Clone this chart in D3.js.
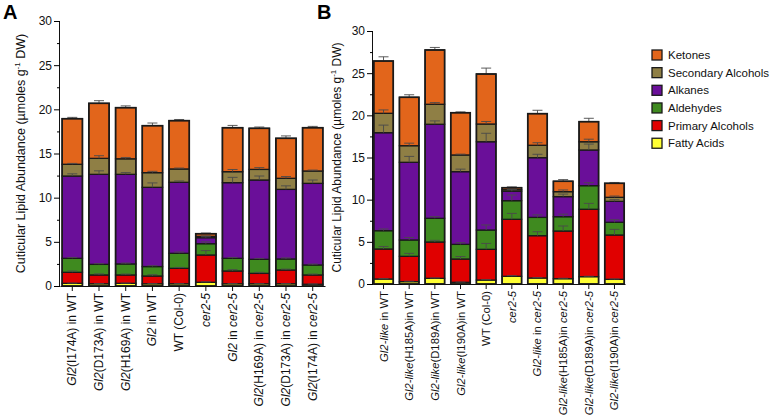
<!DOCTYPE html>
<html><head><meta charset="utf-8">
<script src="https://cdn.jsdelivr.net/npm/d3@7"></script>
<style>body{margin:0;background:#fff}svg{display:block;font-family:"Liberation Sans",Arial,sans-serif}</style>
</head><body><svg id="c" width="770" height="420"></svg>
<script>
// ---------- DATA ----------
const seriesNames = ["Fatty Acids","Primary Alcohols","Aldehydes","Alkanes","Secondary Alcohols","Ketones"];
const seriesColors = ["#ffff33","#e00000","#3f8a1f","#6a0f99","#8f7f45","#e2651b"];

const catsA = ["Gl2(I174A) in WT","Gl2(D173A) in WT","Gl2(H169A) in WT","Gl2 in WT","WT (Col-0)","cer2-5","Gl2 in cer2-5","Gl2(H169A) in cer2-5","Gl2(D173A) in cer2-5","Gl2(I174A) in cer2-5"];
const aFattyAcids  = [0.30,0.25,0.30,0.25,0.25,0.42,0.25,0.25,0.25,0.20];
const aPrimaryAlc  = [1.25,1.00,0.95,0.88,1.75,3.09,1.45,1.18,1.56,1.05];
const aAldehydes   = [1.58,1.20,1.25,1.07,1.70,1.28,1.43,1.59,1.25,1.13];
const aAlkanes     = [9.32,10.19,10.14,8.97,8.04,0.68,8.57,8.98,7.88,9.24];
const aSecondary   = [1.33,1.81,1.76,1.66,1.51,0.15,1.24,1.20,1.25,1.40];
const aKetones     = [5.16,6.23,5.79,5.32,5.47,0.30,4.98,4.65,4.53,4.90];
const aErrFA  = [0.03,0.03,0.03,0.03,0.03,0.05,0.03,0.03,0.03,0.03];
const aErrPA  = [0.15,0.12,0.10,0.15,0.10,0.50,0.15,0.12,0.10,0.10];
const aErrAld = [0.10,0.08,0.10,0.10,0.15,0.20,0.10,0.10,0.12,0.10];
const aErrAlk = [0.25,0.40,0.20,0.50,0.15,0.10,0.60,0.45,0.40,0.38];
const aErrSA  = [0.10,0.30,0.15,0.15,0.10,0.05,0.25,0.20,0.20,0.10];
const aErrK   = [0.15,0.30,0.20,0.30,0.13,0.08,0.26,0.15,0.27,0.15];

const catsB = ["Gl2-like in WT","Gl2-like(H185A)in WT","Gl2-like(D189A)in WT","Gl2-like(I190A)in WT","WT (Col-0)","cer2-5","Gl2-like in cer2-5","Gl2-like(H185A)in cer2-5","Gl2-like(D189A)in cer2-5","Gl2-like(I190A)in cer2-5"];
const bFattyAcids  = [0.59,0.28,0.67,0.20,0.47,0.91,0.71,0.63,0.87,0.55];
const bPrimaryAlc  = [3.56,3.00,4.31,2.76,3.64,6.76,5.02,5.65,7.99,5.26];
const bAldehydes   = [2.17,1.94,2.81,1.74,2.29,2.21,2.17,1.70,2.80,1.51];
const bAlkanes     = [11.62,9.21,11.15,8.62,10.47,1.11,7.08,2.38,4.23,2.48];
const bSecondary   = [2.30,1.97,2.37,1.98,2.10,0.19,1.47,0.59,0.98,0.48];
const bKetones     = [6.20,5.74,6.44,5.01,5.93,0.24,3.75,1.23,2.38,1.66];
const bErrFA  = [0.05,0.05,0.05,0.03,0.05,0.08,0.05,0.05,0.05,0.05];
const bErrPA  = [0.30,0.35,0.20,0.30,0.70,0.70,0.47,0.60,0.70,0.67];
const bErrAld = [0.20,0.30,0.20,0.20,0.60,0.67,0.30,0.30,0.35,0.30];
const bErrAlk = [0.90,0.70,0.40,0.30,1.00,0.20,0.40,0.30,0.70,0.20];
const bErrSA  = [0.40,0.30,0.20,0.10,0.30,0.10,0.30,0.20,0.30,0.15];
const bErrK   = [0.50,0.30,0.30,0.10,0.70,0.10,0.40,0.20,0.40,0.10];

const yTicks = [0,5,10,15,20,25,30];
const italicTokens = /(Gl2-like|Gl2|cer2-5)/;
const legendOrder = ["Ketones","Secondary Alcohols","Alkanes","Aldehydes","Primary Alcohols","Fatty Acids"];

// ---------- DRAW ----------
const svg = d3.select("#c");

function panel(cfg){
  const {cats, series, errs, x0, x1, yTop, yBot, labelX, tickFont, catFont, padOuter} = cfg;
  const g = svg.append("g");
  const x = d3.scaleBand().domain(cats).range([x0, x1]).paddingInner(0.24).paddingOuter(padOuter);
  const y = d3.scaleLinear().domain([0,30]).range([yBot, yTop]);
  const rows = cats.map((c,i)=>{const o={cat:c}; seriesNames.forEach((s,j)=>o[s]=series[j][i]); return o;});
  const stacked = d3.stack().keys(seriesNames)(rows);

  stacked.forEach((layer,j)=>{
    g.append("g").selectAll("rect").data(layer).join("rect")
      .attr("x", d=>x(d.data.cat)).attr("width", x.bandwidth())
      .attr("y", d=>y(d[1])).attr("height", d=>y(d[0])-y(d[1]))
      .attr("fill", seriesColors[j]).attr("stroke","#1a1a1a").attr("stroke-width",1.3);
  });
  // error bars
  const eg = g.append("g").attr("stroke","#4a4a4a").attr("stroke-width",0.9).attr("fill","none");
  stacked.forEach((layer,j)=>{
    layer.forEach((d,i)=>{
      const cx = x(d.data.cat)+x.bandwidth()/2;
      const top = y(d[1]), e = y(d[1]+errs[j][i]);
      eg.append("line").attr("x1",cx).attr("x2",cx).attr("y1",top).attr("y2",e);
      eg.append("line").attr("x1",cx-5).attr("x2",cx+5).attr("y1",e).attr("y2",e);
    });
  });
  // overall outline
  g.append("g").selectAll("rect").data(stacked[stacked.length-1]).join("rect")
    .attr("x", d=>x(d.data.cat)).attr("width", x.bandwidth())
    .attr("y", d=>y(d[1])).attr("height", d=>y(0)-y(d[1]))
    .attr("fill","none").attr("stroke","#1a1a1a").attr("stroke-width",1.6);

  // y axis
  const ya = g.append("g").attr("transform",`translate(${x0},0)`)
    .call(d3.axisLeft(y).tickValues(yTicks).tickSize(6).tickPadding(2).tickFormat(d3.format("d")));
  ya.selectAll("text").attr("font-size",tickFont).attr("fill","#111").attr("font-family","Liberation Sans, Arial, sans-serif");
  ya.select(".domain").attr("d",`M-0.5,${y(30)}V${y(0)}`).attr("stroke","#111");
  g.append("g").attr("transform",`translate(${x0},0)`)
    .call(d3.axisLeft(y).tickValues(d3.range(2.5,30,5)).tickSize(3).tickFormat(""))
    .select(".domain").remove();
  // x axis
  const xa = g.append("g").attr("transform",`translate(0,${yBot})`)
    .call(d3.axisBottom(x).tickSize(5).tickSizeOuter(0));
  xa.select(".domain").attr("stroke","#111");
  xa.selectAll("line").attr("stroke","#111");
  xa.selectAll("text").remove();
  const lab = g.append("g").selectAll("text").data(cats).join("text")
    .attr("transform", d=>`translate(${x(d)+x.bandwidth()/2+4},${yBot+7}) rotate(-90)`)
    .attr("text-anchor","end").attr("font-size",catFont).attr("fill","#111");
  lab.each(function(d){
    const t = d3.select(this);
    d.split(italicTokens).filter(s=>s.length).forEach(p=>{
      const m = p.match(italicTokens);
      t.append("tspan").text(p).attr("font-style", m && m[0]===p ? "italic":"normal");
    });
  });
  // y label
  const yl = g.append("text")
    .attr("transform",`translate(${labelX},${(y(0)+y(30))/2}) rotate(-90)`)
    .attr("text-anchor","middle").attr("font-size",cfg.labelFont).attr("fill","#111");
  yl.append("tspan").text("Cuticular Lipid Abundance (\u00b5moles g");
  yl.append("tspan").text("-1").attr("font-size",cfg.labelFont*0.65).attr("dy",-5);
  yl.append("tspan").text(" DW)").attr("dy",5);
}

panel({cats:catsA, series:[aFattyAcids,aPrimaryAlc,aAldehydes,aAlkanes,aSecondary,aKetones],
  errs:[aErrFA,aErrPA,aErrAld,aErrAlk,aErrSA,aErrK], x0:60, x1:325, yTop:21, yBot:286, labelX:25, tickFont:12, catFont:12, labelFont:12.5, padOuter:0.08});
panel({cats:catsB, series:[bFattyAcids,bPrimaryAlc,bAldehydes,bAlkanes,bSecondary,bKetones],
  errs:[bErrFA,bErrPA,bErrAld,bErrAlk,bErrSA,bErrK], x0:373, x1:625, yTop:31, yBot:284, labelX:341, tickFont:12, catFont:11.3, labelFont:12, padOuter:0.03});

svg.append("text").attr("x",3).attr("y",19).attr("font-size",20).attr("font-weight","bold").text("A");
svg.append("text").attr("x",317).attr("y",19).attr("font-size",20).attr("font-weight","bold").text("B");

// legend
const lg = svg.append("g");
legendOrder.forEach((name,i)=>{
  const cy = 55 + i*17.65;
  lg.append("rect").attr("x",652).attr("y",cy-5).attr("width",10).attr("height",10)
    .attr("fill",seriesColors[seriesNames.indexOf(name)]).attr("stroke","#1a1a1a").attr("stroke-width",1.3);
  lg.append("text").attr("x",668).attr("y",cy).attr("dy","0.35em").attr("font-size",11.5).attr("fill","#111").text(name);
});
</script></body></html>
